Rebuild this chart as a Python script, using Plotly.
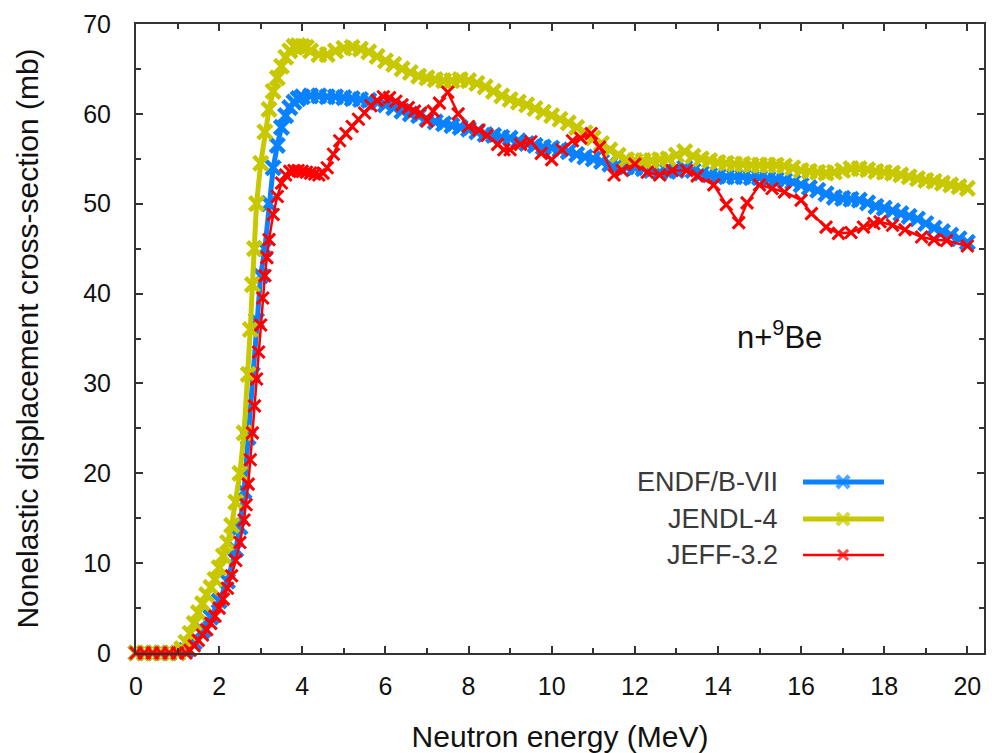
import plotly.graph_objects as go

# ENDF/B-VII nonelastic displacement cross-section (mb) vs neutron energy (MeV)
endf_e = [0, 0.2, 0.4, 0.6, 0.8, 1.0, 1.2, 1.4, 1.6, 1.8, 2.0, 2.2, 2.4, 2.5, 2.6, 2.7,
          2.8, 2.9, 3.0, 3.1, 3.2, 3.3, 3.4, 3.5, 3.6, 3.7, 3.8, 3.9, 4.0, 4.2, 4.4, 4.6,
          4.8, 5.0, 5.2, 5.4, 5.6, 5.8, 6.0, 6.2, 6.4, 6.6, 6.8, 7.0, 7.2, 7.4, 7.6, 7.8,
          8.0, 8.2, 8.4, 8.6, 8.8, 9.0, 9.2, 9.4, 9.6, 9.8, 10.0, 10.2, 10.4, 10.6, 10.8,
          11.0, 11.2, 11.4, 11.6, 11.8, 12.0, 12.2, 12.4, 12.6, 12.8, 13.0, 13.2, 13.4,
          13.6, 13.8, 14.0, 14.2, 14.4, 14.6, 14.8, 15.0, 15.2, 15.4, 15.6, 15.8, 16.0,
          16.2, 16.4, 16.6, 16.8, 17.0, 17.2, 17.4, 17.6, 17.8, 18.0, 18.2, 18.4, 18.6,
          18.8, 19.0, 19.2, 19.4, 19.6, 19.8, 20.0]
endf_xs = [0, 0, 0, 0, 0, 0, 0.3, 1.2, 2.5, 4.0, 5.8, 8.0, 11.5, 14.0, 18.0, 24.0,
           31.0, 37.0, 42.0, 45.0, 50.0, 54.0, 56.5, 58.5, 59.8, 60.7, 61.3, 61.7, 61.9,
           62.0, 62.0, 61.9, 61.9, 61.8, 61.7, 61.6, 61.5, 61.3, 61.0, 60.7, 60.3, 60.0,
           59.8, 59.4, 59.1, 58.9, 58.7, 58.5, 58.3, 58.0, 57.7, 57.6, 57.4, 57.3, 57.0,
           56.7, 56.5, 56.3, 56.2, 56.0, 55.8, 55.5, 55.2, 55.0, 54.7, 54.4, 54.3, 54.1,
           54.0, 53.9, 53.7, 53.5, 53.6, 53.7, 54.0, 53.7, 53.4, 53.2, 53.1, 53.0, 53.0,
           53.0, 52.9, 52.9, 52.8, 52.7, 52.6, 52.4, 52.1, 51.8, 51.5, 51.1, 50.7, 50.6,
           50.5, 50.4, 50.1, 49.7, 49.5, 49.2, 48.9, 48.6, 48.3, 47.8, 47.3, 46.9, 46.5,
           46.1, 45.7]

# JENDL-4
jendl_e = [0, 0.2, 0.4, 0.6, 0.8, 1.0, 1.1, 1.2, 1.3, 1.4, 1.5, 1.6, 1.7, 1.8, 1.9, 2.0,
           2.1, 2.2, 2.3, 2.4, 2.5, 2.6, 2.7, 2.75, 2.8, 2.85, 2.9, 3.0, 3.1, 3.2, 3.3,
           3.4, 3.5, 3.6, 3.7, 3.8, 3.9, 4.0, 4.1, 4.2, 4.4, 4.6, 4.8, 5.0, 5.2, 5.4, 5.6,
           5.8, 6.0, 6.2, 6.4, 6.6, 6.8, 7.0, 7.2, 7.4, 7.6, 7.8, 8.0, 8.2, 8.4, 8.6, 8.8,
           9.0, 9.2, 9.4, 9.6, 9.8, 10.0, 10.2, 10.4, 10.6, 10.8, 11.0, 11.2, 11.4, 11.6,
           11.8, 12.0, 12.2, 12.4, 12.6, 12.8, 13.0, 13.2, 13.4, 13.6, 13.8, 14.0, 14.2,
           14.4, 14.6, 14.8, 15.0, 15.2, 15.4, 15.6, 15.8, 16.0, 16.2, 16.4, 16.6, 16.8,
           17.0, 17.2, 17.4, 17.6, 17.8, 18.0, 18.2, 18.4, 18.6, 18.8, 19.0, 19.2, 19.4,
           19.6, 19.8, 20.0]
jendl_xs = [0, 0, 0, 0, 0, 0, 0.5, 1.2, 2.2, 3.3, 4.5, 5.5, 6.5, 7.3, 8.2, 9.5,
            10.8, 12.3, 14.2, 16.8, 20.0, 24.5, 31.0, 36.0, 41.0, 45.0, 50.0, 54.5, 58.0,
            60.5, 62.5, 64.0, 65.3, 66.3, 67.0, 67.5, 67.6, 67.5, 67.4, 67.0, 66.6, 66.6,
            67.0, 67.3, 67.4, 67.2, 66.9, 66.4, 65.9, 65.5, 65.0, 64.6, 64.2, 64.0, 63.8,
            63.7, 63.7, 63.8, 63.7, 63.4, 63.0, 62.5, 62.0, 61.6, 61.3, 61.0, 60.6, 60.2,
            59.8, 59.4, 59.0, 58.5, 57.9, 57.3, 56.7, 56.0, 55.4, 54.9, 54.8, 54.8, 54.8,
            54.9, 55.0, 55.4, 55.8, 55.3, 55.0, 54.8, 54.6, 54.5, 54.4, 54.4, 54.3, 54.3,
            54.3, 54.3, 54.2, 54.0, 53.7, 53.6, 53.5, 53.4, 53.5, 53.7, 53.9, 53.9, 53.8,
            53.6, 53.5, 53.4, 53.2, 53.0, 52.8, 52.6, 52.5, 52.3, 52.1, 51.9, 51.7]

# JEFF-3.2
jeff_e = [0, 0.2, 0.4, 0.6, 0.8, 1.0, 1.2, 1.3, 1.4, 1.5, 1.6, 1.7, 1.8, 1.9, 2.0, 2.1,
          2.2, 2.3, 2.4, 2.5, 2.6, 2.65, 2.7, 2.75, 2.8, 2.85, 2.9, 2.95, 3.0, 3.05, 3.1,
          3.15, 3.2, 3.3, 3.4, 3.5, 3.6, 3.7, 3.8, 3.9, 4.0, 4.1, 4.2, 4.3, 4.4, 4.5, 4.6,
          4.75, 4.9, 5.05, 5.2, 5.35, 5.5, 5.65, 5.8, 5.95, 6.1, 6.25, 6.4, 6.55, 6.7,
          6.85, 7.0, 7.15, 7.3, 7.5, 7.75, 8.0, 8.25, 8.45, 8.7, 8.85, 9.0, 9.25, 9.5,
          9.75, 10.0, 10.25, 10.5, 10.7, 10.95, 11.15, 11.5, 11.7, 12.0, 12.3, 12.6, 12.9,
          13.25, 13.5, 13.9, 14.2, 14.5, 14.7, 15.0, 15.3, 15.6, 16.0, 16.25, 16.6, 16.9,
          17.2, 17.5, 17.75, 17.9, 18.2, 18.5, 18.9, 19.2, 19.5, 20.0]
jeff_xs = [0, 0, 0, 0, 0, 0, 0, 0.3, 0.8, 1.4, 2.0, 2.6, 3.3, 4.1, 5.0, 6.0,
           7.2, 8.6, 10.3, 12.3, 14.8, 16.5, 18.8, 21.5, 24.5, 27.5, 30.5, 33.5, 36.5,
           39.5, 42.0, 44.0, 46.0, 48.8, 50.8, 52.3, 53.2, 53.6, 53.7, 53.7, 53.6, 53.5,
           53.4, 53.3, 53.2, 53.4, 54.0, 55.5, 57.0, 57.8, 58.6, 59.4, 60.1, 60.9, 61.5,
           61.9, 61.8, 61.4, 61.0, 60.7, 60.3, 60.1, 59.2, 60.3, 61.2, 62.4, 60.0, 58.6,
           58.2, 57.6, 56.6, 56.0, 56.0, 56.6, 56.9, 55.6, 54.9, 56.0, 57.0, 57.3, 57.8,
           56.3, 53.2, 53.7, 54.4, 53.5, 53.2, 53.7, 53.7, 53.1, 52.1, 49.9, 47.9, 50.1,
           52.1, 51.7, 51.3, 50.4, 48.9, 47.4, 46.7, 46.8, 47.4, 47.8, 48.0, 47.6, 47.1,
           46.3, 46.0, 45.9, 45.3]

series_names = ["ENDF/B-VII", "JENDL-4", "JEFF-3.2"]
series_colors = ["#0a82ff", "#c8c800", "#ff0000"]

FONT = "Liberation Sans, Arial, sans-serif"

fig = go.Figure()

styles = [
    dict(line_w=5, msize=14, mline=4.5),
    dict(line_w=5, msize=14, mline=4.5),
    dict(line_w=2.5, msize=12, mline=3),
]
data = [(endf_e, endf_xs), (jendl_e, jendl_xs), (jeff_e, jeff_xs)]

for (xe, ys), name, col, st in zip(data, series_names, series_colors, styles):
    fig.add_trace(go.Scatter(
        x=xe, y=ys, name=name, mode="lines+markers",
        line=dict(color=col, width=st["line_w"]),
        marker=dict(symbol="x-thin", size=st["msize"],
                    line=dict(color=col, width=st["mline"])),
        showlegend=False, cliponaxis=False,
    ))

# key drawn inside the plot area: right-aligned labels with samples to the right
key_rows = [0.272, 0.213, 0.156]
for name, col, st, yk in zip(series_names, series_colors, styles, key_rows):
    fig.add_trace(go.Scatter(
        x=[0.7866, 0.8338, 0.882], y=[yk, yk, yk], mode="lines+markers",
        xaxis="x2", yaxis="y2",
        line=dict(color=col, width=st["line_w"]),
        marker=dict(symbol="x-thin", size=[0, st["msize"] - 2, 0],
                    line=dict(color=col, width=st["mline"])),
        showlegend=False, hoverinfo="skip",
    ))
    fig.add_annotation(
        x=0.7594, y=yk, xref="paper", yref="paper", xanchor="right", yanchor="middle",
        text=name, showarrow=False, font=dict(family=FONT, size=27, color="#3a3a3a"),
    )

fig.add_annotation(
    x=0.7585, y=0.5056, xref="paper", yref="paper", xanchor="center", yanchor="middle",
    text="n+<sup>9</sup>Be", showarrow=False, font=dict(family=FONT, size=31, color="#111"),
)

axis_common = dict(
    showgrid=False, zeroline=False, showline=True, linecolor="#333", linewidth=2,
    mirror="allticks", ticks="inside", ticklen=7, tickwidth=1.5, tickcolor="#333",
    tickfont=dict(family=FONT, size=25, color="#111"), automargin=False,
)

fig.update_layout(
    width=994, height=753,
    margin=dict(l=136, r=10, t=24, b=100),
    paper_bgcolor="white", plot_bgcolor="white",
    xaxis=dict(
        range=[0, 20.4], tickmode="linear", tick0=0, dtick=2,
        minor=dict(dtick=1, ticks="inside", ticklen=5, tickcolor="#333", tickwidth=1.5),
        ticklabelstandoff=10,
        title=dict(text="Neutron energy (MeV)", standoff=27,
                   font=dict(family=FONT, size=30, color="#111")),
        **axis_common,
    ),
    yaxis=dict(
        range=[0, 70], tickmode="linear", tick0=0, dtick=10,
        minor=dict(dtick=5, ticks="inside", ticklen=5, tickcolor="#333", tickwidth=1.5),
        ticklabelstandoff=18,
        title=dict(text="Nonelastic displacement cross-section (mb)", standoff=36,
                   font=dict(family=FONT, size=30, color="#111")),
        **axis_common,
    ),
    xaxis2=dict(range=[0, 1], overlaying="x", visible=False, fixedrange=True),
    yaxis2=dict(range=[0, 1], overlaying="y", anchor="x2", visible=False, fixedrange=True),
)

fig.write_html("out.html")
